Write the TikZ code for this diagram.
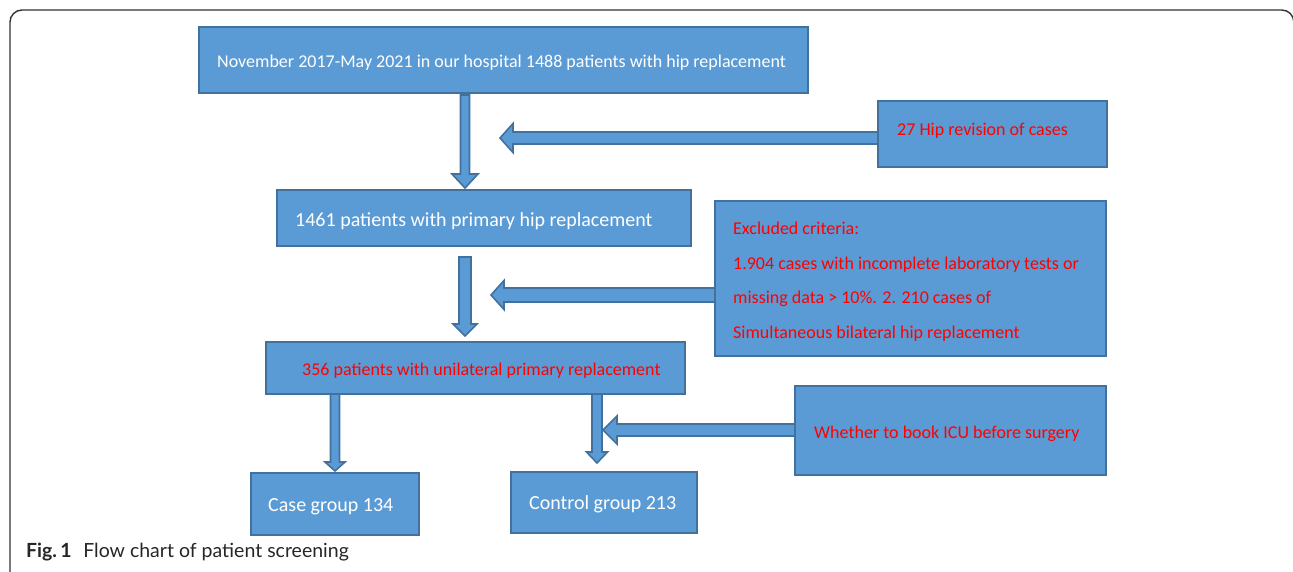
\documentclass[tikz,border=0pt]{standalone}
\usepackage{fontspec}
\setmainfont{Carlito}
\newfontfamily\capfont{Lato}
\definecolor{boxfill}{HTML}{5B9BD5}
\definecolor{boxline}{HTML}{41719C}
\definecolor{framegray}{HTML}{333333}
\newcommand\dnblock[6]{% x, halfshaft, halfhead, ytop, yheadbase, ytip
  \filldraw[blockarrow] ({#1-#2},#4) -- ({#1+#2},#4) -- ({#1+#2},#5) -- ({#1+#3},#5) -- (#1,#6) -- ({#1-#3},#5) -- ({#1-#2},#5) -- cycle;}
\newcommand\ltblock[6]{% y, halfshaft, halfhead, xright, xheadbase, xtip
  \filldraw[blockarrow] (#4,{#1-#2}) -- (#4,{#1+#2}) -- (#5,{#1+#2}) -- (#5,{#1+#3}) -- (#6,#1) -- (#5,{#1-#3}) -- (#5,{#1-#2}) -- cycle;}
\tikzset{
  box/.style={draw=boxline, fill=boxfill, line width=2pt, inner sep=0pt},
  blockarrow/.style={draw=boxline, fill=boxfill, line width=1.6pt, line join=miter},
  wt/.style={text=white, inner sep=0pt, anchor=base west},
  rt/.style={text=red, inner sep=0pt, anchor=base west, font=\fontsize{18}{20}\selectfont},
}
\begin{document}
\begin{tikzpicture}[x=1pt,y=-1pt]
\useasboundingbox (0,0) rectangle (1293,571);
% frame
\draw[framegray, line width=1.4pt, rounded corners=12pt] (10,575) -- (10,10) -- (1293.8,10) -- (1293.8,575);
% boxes
\node[box, minimum width=609pt, minimum height=66pt] (b1) at (503.5,60) {};
\node[box, minimum width=229pt, minimum height=66pt] (rev) at (992.5,134) {};
\node[box, minimum width=414pt, minimum height=56pt] (b2) at (484,218) {};
\node[box, minimum width=391pt, minimum height=155pt] (exc) at (910.5,278.5) {};
\node[box, minimum width=419pt, minimum height=52pt] (b3) at (475.5,368) {};
\node[box, minimum width=311pt, minimum height=89pt] (icu) at (950.5,430.5) {};
\node[box, minimum width=168pt, minimum height=62pt] (case) at (335,504) {};
\node[box, minimum width=186pt, minimum height=61pt] (ctrl) at (604,502.5) {};
% texts
\node[wt, font=\fontsize{18}{20}\selectfont] (t1) at (217,67) {November 2017-May 2021 in our hospital 1488 patients with hip replacement};
\node[rt] (t2) at (897,135) {27 Hip revision of cases};
\node[wt, font=\fontsize{20}{22}\selectfont] (t3) at (295,226) {1461 patients with primary hip replacement};
\node[rt] (t4a) at (733,234) {Excluded criteria:};
\node[rt] (t4b) at (733,269) {1.904 cases with incomplete laboratory tests or};
\node[rt] (t4c) at (733,303.5) {missing data > 10\%. 2. 210 cases of};
\node[rt] (t4d) at (733,338) {Simultaneous bilateral hip replacement};
\node[rt] (t5) at (302,375) {356 patients with unilateral primary replacement};
\node[rt] (t6) at (814,438) {Whether to book ICU before surgery};
\node[wt, font=\fontsize{20}{22}\selectfont] (t7) at (268,511) {Case group 134};
\node[wt, font=\fontsize{20}{22}\selectfont] (t8) at (529,509) {Control group 213};
% block arrows
\dnblock{465}{4.5}{13}{95}{174}{188}
\ltblock{138}{6}{14.5}{878}{513}{500}
\dnblock{465}{6}{12}{257}{324}{336}
\ltblock{295}{7}{14.5}{715}{504}{491}
\dnblock{335}{4.5}{10}{394}{462}{471}
\dnblock{597}{5}{10.5}{394}{452}{463}
\ltblock{430}{6}{14}{795}{617}{603}
% caption
\node[inner sep=0pt, anchor=base west, font=\capfont\fontsize{19.5}{22}\selectfont, text=black!85] (cap) at (26,557) {\textbf{Fig.\,1}\hspace{0.6em}{\capfont Flow chart of patient screening}};
\end{tikzpicture}
\end{document}
